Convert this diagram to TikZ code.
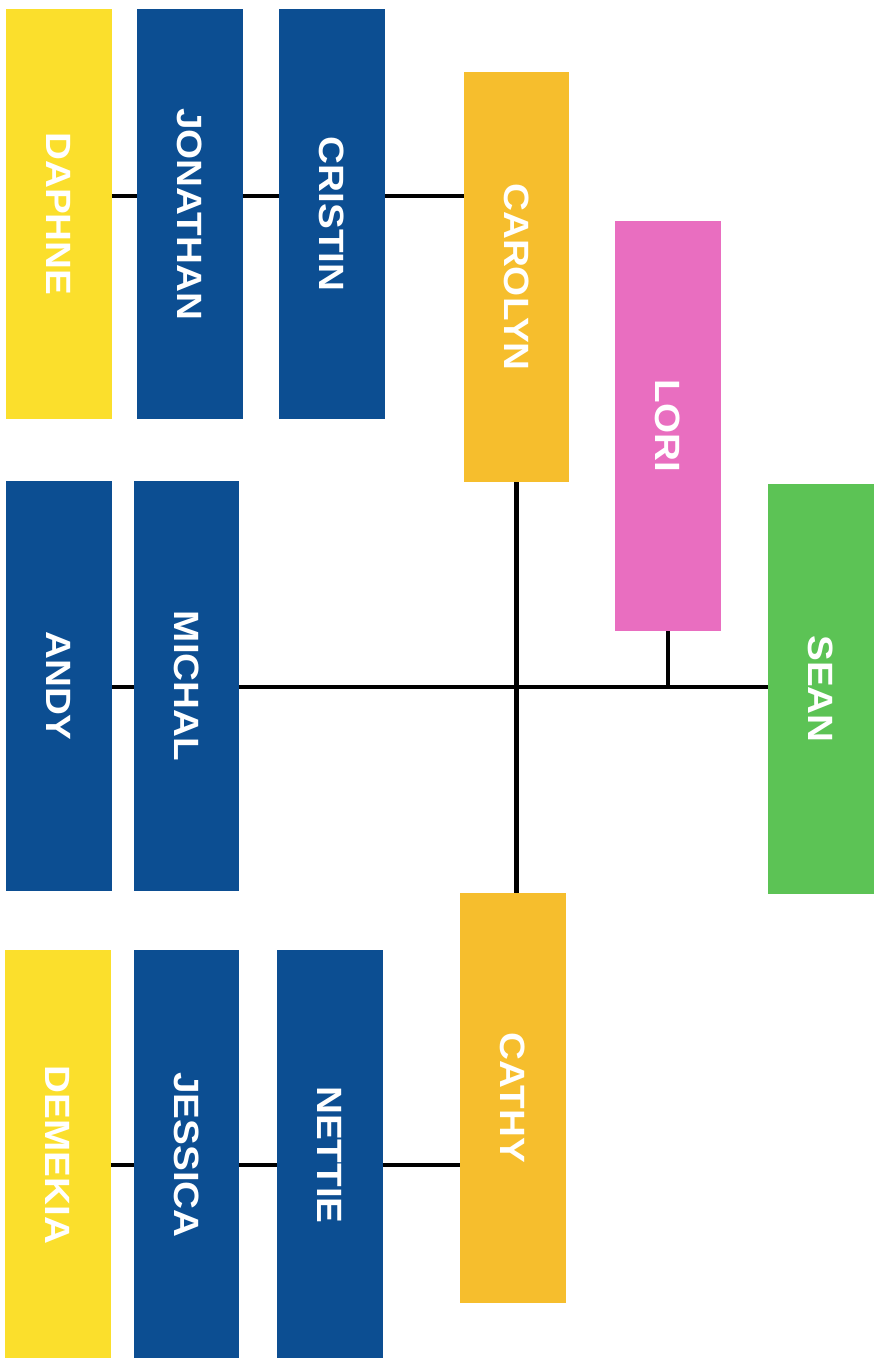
\documentclass[tikz,border=0pt]{standalone}
\usepackage{fontspec}
\usepackage{xcolor}
\usepackage{tikz}
\usetikzlibrary{positioning}
\newfontfamily\namefont{Liberation Sans}

\definecolor{kidyellow}{HTML}{FBDF2C}
\definecolor{momyellow}{HTML}{F6BE2D}
\definecolor{navyblue}{HTML}{0C4E92}
\definecolor{lorapink}{HTML}{E96EC0}
\definecolor{seangreen}{HTML}{5CC355}

\newcommand{\vname}[1]{\rotatebox{-90}{\scalebox{1.1}[1]{#1}}}

\begin{document}
\begin{tikzpicture}[
  x=0.02cm, y=-0.02cm,
  person/.style={inner sep=0pt, outer sep=0pt, text=white,
    minimum width=2.12cm, minimum height=8.22cm,
    font=\namefont\bfseries\fontsize{20}{24}\selectfont},
  kid/.style={person, fill=kidyellow},
  mom/.style={person, fill=momyellow},
  blue/.style={person, fill=navyblue},
  link/.style={line width=2.8pt, black},
]
\useasboundingbox (0,0) rectangle (874,1358);

\node[kid] (daphne) at (59,214) {\vname{DAPHNE}};
\node[blue] (jonathan) at (190,214) {\vname{JONATHAN}};
\node[blue] (cristin) at (332,214) {\vname{CRISTIN}};
\node[mom] (carolyn) at (516.5,277) {\vname{CAROLYN}};
\node[person, fill=lorapink] (lori) at (668,426) {\vname{LORI}};
\node[person, fill=seangreen] (sean) at (820.5,689) {\vname{SEAN}};
\node[blue] (andy) at (59,686) {\vname{ANDY}};
\node[blue] (michal) at (186.5,686) {\vname{MICHAL}};
\node[mom] (cathy) at (513,1098) {\vname{CATHY}};
\node[kid] (demekia) at (58,1155) {\vname{DEMEKIA}};
\node[blue] (jessica) at (186.5,1155) {\vname{JESSICA}};
\node[blue] (nettie) at (330,1155) {\vname{NETTIE}};

\coordinate (toprow) at (0,196);
\coordinate (midrow) at (0,687);
\coordinate (botrow) at (0,1165);

% top branch
\draw[link] (daphne.east |- toprow) -- (jonathan.west |- toprow);
\draw[link] (jonathan.east |- toprow) -- (cristin.west |- toprow);
\draw[link] (cristin.east |- toprow) -- (carolyn.west |- toprow);

% trunk
\draw[link] (carolyn.south) -- (carolyn.south |- cathy.north);
\draw[link] (andy.east |- midrow) -- (michal.west |- midrow);
\draw[link] (michal.east |- midrow) -- (sean.west |- midrow);
\draw[link] (lori.south) -- (lori.south |- midrow);

% bottom branch
\draw[link] (demekia.east |- botrow) -- (jessica.west |- botrow);
\draw[link] (jessica.east |- botrow) -- (nettie.west |- botrow);
\draw[link] (nettie.east |- botrow) -- (cathy.west |- botrow);

\end{tikzpicture}
\end{document}
